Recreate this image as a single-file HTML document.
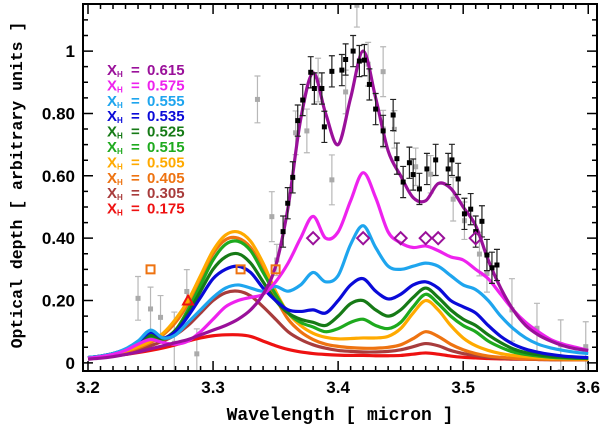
<!DOCTYPE html>
<html><head><meta charset="utf-8"><style>
html,body{margin:0;padding:0;background:#fff;}
svg{display:block;font-family:"Liberation Sans",sans-serif;}
</style></head><body>
<svg id="chart" width="600" height="429" viewBox="0 0 600 429" xmlns="http://www.w3.org/2000/svg">
<g id="marks"></g>
<g id="axes"></g>
<text x="340" y="420" text-anchor="middle" font-family="Liberation Mono, monospace" font-weight="bold" font-size="18">Wavelength [ micron ]</text>
<text transform="translate(22,185) rotate(-90)" text-anchor="middle" font-family="Liberation Mono, monospace" font-weight="bold" font-size="16.5">Optical depth [ arbitrary units ]</text>
<g id="legend"></g>
</svg>
<script>
const grid = [3.20,3.21,3.22,3.23,3.24,3.25,3.26,3.27,3.28,3.29,3.30,3.31,3.32,3.33,3.34,3.35,3.36,3.37,3.38,3.39,3.40,3.41,3.42,3.43,3.44,3.45,3.46,3.47,3.48,3.49,3.50,3.51,3.52,3.53,3.54,3.55,3.56,3.57,3.58,3.59,3.60];
const labels = ["0.615","0.575","0.555","0.535","0.525","0.515","0.505","0.405","0.305","0.175"];
const colors = ["#9a109a","#ee22ee","#1ea5ee","#0a0ad8","#167a16","#1eaa1e","#ffaa00","#ee7311","#a83c3c","#ee1111"];
const sPurple = [.012,.015,.02,.027,.035,.045,.055,.065,.075,.09,.105,.12,.14,.17,.22,.31,.5,.78,.93,.8,.7,.85,1.0,.85,.68,.6,.53,.52,.575,.56,.50,.44,.33,.24,.17,.12,.09,.07,.055,.045,.04];
const sMagenta = [.015,.02,.027,.04,.06,.075,.065,.06,.07,.1,.14,.18,.2,.21,.22,.26,.32,.40,.47,.4,.42,.52,.61,.53,.42,.385,.37,.375,.36,.34,.33,.30,.27,.22,.17,.13,.1,.075,.06,.05,.04];
const sLightBlue = [.017,.022,.03,.045,.07,.105,.08,.09,.13,.17,.21,.24,.25,.24,.23,.245,.23,.25,.29,.26,.28,.38,.44,.37,.31,.3,.31,.32,.31,.28,.25,.235,.2,.15,.11,.08,.06,.048,.04,.034,.03];
const sBlue = [.017,.022,.03,.044,.068,.098,.08,.1,.15,.21,.27,.3,.31,.29,.24,.2,.17,.165,.17,.16,.2,.25,.27,.23,.205,.22,.25,.26,.24,.2,.18,.16,.12,.085,.06,.044,.034,.027,.022,.019,.017];
const sDarkGreen = [.017,.022,.03,.043,.065,.088,.078,.105,.16,.23,.3,.34,.35,.32,.26,.2,.16,.14,.13,.12,.15,.19,.2,.17,.15,.17,.21,.24,.21,.17,.14,.12,.09,.065,.045,.033,.026,.021,.018,.016,.015];
const sGreen = [.017,.022,.03,.043,.062,.082,.076,.105,.17,.25,.33,.38,.39,.36,.29,.22,.16,.13,.115,.1,.11,.13,.14,.12,.11,.13,.18,.22,.19,.15,.12,.1,.07,.05,.035,.027,.022,.018,.016,.015,.014];
const sYellow = [.015,.02,.027,.038,.052,.07,.095,.14,.2,.28,.36,.41,.42,.39,.32,.23,.16,.12,.095,.082,.077,.078,.08,.08,.085,.11,.16,.2,.17,.12,.08,.055,.04,.03,.024,.02,.017,.015,.014,.013,.012];
const sOrange = [.015,.02,.026,.035,.048,.065,.09,.13,.19,.27,.35,.395,.40,.37,.3,.21,.14,.1,.075,.06,.053,.049,.047,.047,.05,.058,.078,.1,.085,.06,.042,.03,.022,.018,.015,.013,.012,.011,.01,.01,.01];
const sBrown = [.015,.02,.025,.032,.042,.055,.07,.09,.12,.16,.2,.225,.23,.215,.18,.14,.1,.075,.058,.047,.04,.037,.035,.035,.037,.042,.052,.062,.055,.04,.03,.023,.018,.015,.013,.012,.011,.01,.01,.01,.01];
const sRed = [.015,.018,.022,.027,.033,.04,.048,.058,.07,.08,.087,.09,.09,.085,.07,.055,.043,.035,.03,.027,.025,.024,.024,.023,.023,.024,.028,.032,.028,.022,.018,.016,.014,.013,.012,.012,.011,.011,.01,.01,.01];
const blackX = [3.356,3.3597,3.3637,3.3677,3.3717,3.3781,3.381,3.387,3.389,3.395,3.403,3.406,3.412,3.417,3.421,3.425,3.430,3.436,3.444,3.447,3.452,3.457,3.460,3.465,3.471,3.478,3.488,3.491,3.496,3.501,3.506,3.510,3.515,3.519,3.523,3.527];
const blackY = [.421,.512,.595,.777,.843,.932,.880,.880,.757,.935,.939,.973,1.0,.968,.971,.893,.814,.744,.795,.655,.580,.642,.604,.558,.622,.651,.622,.651,.590,.478,.493,.421,.454,.346,.305,.314];
const greyX = [3.240,3.250,3.258,3.269,3.279,3.287,3.3355,3.347,3.351,3.366,3.375,3.384,3.395,3.406,3.415,3.424,3.436,3.436,3.445,3.462,3.474,3.492,3.501,3.513,3.519,3.539,3.559,3.578,3.598];
const greyY = [.207,.173,.146,.063,.229,.029,.845,.469,.33,.738,.744,.907,.587,.869,1.147,.958,.934,.750,.749,.629,.605,.525,.456,.349,.287,.170,.111,.058,.052];
const greyErr = [.07,.07,.07,.1,.07,.08,.075,.08,.05,.07,.07,.07,.08,.07,.07,.07,.08,.06,.06,.06,.06,.07,.06,.07,.06,.1,.08,.08,.08];
const orangeSqX = [3.25,3.322,3.35];
const orangeSqY = [.30,.30,.30];
const triX = [3.28];
const triY = [.20];
const diamondX = [3.38,3.42,3.45,3.47,3.48,3.51];
const diamondY = [.40,.40,.40,.40,.40,.40];
const xTicks = [3.2,3.3,3.4,3.5,3.6];
const xTickLabels = ["3.2","3.3","3.4","3.5","3.6"];
const yTicks = [0,0.2,0.4,0.6,0.8,1.0];
const yTickLabels = ["0","0.20","0.40","0.60","0.80","1"];

const L=83,R=597,T=4,B=371, X0=3.196,X1=3.607,Y0=-0.026,Y1=1.151;
const sx=v=>L+(v-X0)/(X1-X0)*(R-L);
const sy=v=>B-(v-Y0)/(Y1-Y0)*(B-T);
const NS="http://www.w3.org/2000/svg";
const mk=(t,a,p)=>{const e=document.createElementNS(NS,t);for(const k in a)e.setAttribute(k,a[k]);p.appendChild(e);return e;};
const marks=document.getElementById('marks'), axes=document.getElementById('axes'), legend=document.getElementById('legend');

const defs=mk('defs',{},document.getElementById('chart'));
const cp=mk('clipPath',{id:'clip'},defs);mk('rect',{x:L,y:T,width:R-L,height:B-T},cp);
marks.setAttribute('clip-path','url(#clip)');

greyX.forEach((x,i)=>{
  const g=mk('g',{},marks);
  
  
  const cx=sx(x),y1=sy(greyY[i]-greyErr[i]),y2=sy(greyY[i]+greyErr[i]);
  mk('path',{d:`M${cx},${y1}V${y2}M${cx-3},${y1}H${cx+3}M${cx-3},${y2}H${cx+3}`,stroke:'#b8b8b8','stroke-width':1.2,fill:'none'},g);
  mk('rect',{x:cx-2.5,y:sy(greyY[i])-2.5,width:5,height:5,fill:'#aaa'},g);
});

const series=[sRed,sBrown,sOrange,sYellow,sGreen,sDarkGreen,sBlue,sLightBlue,sMagenta,sPurple];
const cols=[colors[9],colors[8],colors[7],colors[6],colors[5],colors[4],colors[3],colors[2],colors[1],colors[0]];
const names=['curve-0.175','curve-0.305','curve-0.405','curve-0.505','curve-0.515','curve-0.525','curve-0.535','curve-0.555','curve-0.575','curve-0.615'];
series.forEach((s,k)=>{
  const p=grid.map((g,i)=>[sx(g),sy(s[i])]);
  let d=`M${p[0][0]},${p[0][1]}`;
  for(let i=0;i<p.length-1;i++){
    const p0=p[Math.max(0,i-1)],p1=p[i],p2=p[i+1],p3=p[Math.min(p.length-1,i+2)];
    d+=`C${p1[0]+(p2[0]-p0[0])/6},${p1[1]+(p2[1]-p0[1])/6} ${p2[0]-(p3[0]-p1[0])/6},${p2[1]-(p3[1]-p1[1])/6} ${p2[0]},${p2[1]}`;
  }
  const e=mk('path',{d,stroke:cols[k],'stroke-width':3.2,fill:'none','stroke-linejoin':'round'},marks);
  
  
});

blackX.forEach((x,i)=>{
  const g=mk('g',{},marks);
  
  
  const cx=sx(x),y1=sy(blackY[i]-0.05),y2=sy(blackY[i]+0.05);
  mk('path',{d:`M${cx},${y1}V${y2}M${cx-3},${y1}H${cx+3}M${cx-3},${y2}H${cx+3}`,stroke:'#222','stroke-width':1.2,fill:'none'},g);
  mk('rect',{x:cx-2.5,y:sy(blackY[i])-2.5,width:5,height:5,fill:'#000'},g);
});
orangeSqX.forEach((x,i)=>{
  const e=mk('rect',{x:sx(x)-4,y:sy(orangeSqY[i])-4,width:8,height:8,fill:'none',stroke:'#ee7311','stroke-width':2},marks);
  
  
});
triX.forEach((x,i)=>{
  const cx=sx(x),cy=sy(triY[i]);
  const e=mk('path',{d:`M${cx},${cy-5}L${cx+5},${cy+4}L${cx-5},${cy+4}Z`,fill:'none',stroke:'#ee1111','stroke-width':2},marks);
  
  
});
diamondX.forEach((x,i)=>{
  const cx=sx(x),cy=sy(diamondY[i]);
  const e=mk('path',{d:`M${cx},${cy-6}L${cx+6},${cy}L${cx},${cy+6}L${cx-6},${cy}Z`,fill:'none',stroke:'#9a109a','stroke-width':2},marks);
  
  
});

const frame=mk('rect',{x:L,y:T,width:R-L,height:B-T,fill:'none',stroke:'#000','stroke-width':2},axes);


let td='';
for(let v=3.2;v<=3.6001;v+=0.01){const x=sx(v);const major=Math.abs(v*10-Math.round(v*10))<1e-6;const l=major?10:5;td+=`M${x},${B}v${-l}M${x},${T}v${l}`;}
for(let v=0;v<=1.1001;v+=0.05){const y=sy(v);const major=Math.abs(v*5-Math.round(v*5))<1e-6;const l=major?10:5;td+=`M${L},${y}h${l}M${R},${y}h${-l}`;}
const tk=mk('path',{d:td,stroke:'#000','stroke-width':1.5,fill:'none'},axes);


xTicks.forEach((v,i)=>{
  const t=mk('text',{x:sx(v),y:393,'text-anchor':'middle','font-size':17,'font-weight':'bold'},axes);
  t.textContent=xTickLabels[i];
  
  
});
yTicks.forEach((v,i)=>{
  const t=mk('text',{x:75,y:sy(v)+6,'text-anchor':'end','font-size':17,'font-weight':'bold'},axes);
  t.textContent=yTickLabels[i];
  
  
});
labels.forEach((lb,i)=>{
  const y=75+i*15.4;
  const g=mk('g',{'font-size':15,'font-weight':'bold',fill:colors[i]},legend);
  
  
  const a=mk('text',{x:107,y:y},g);a.textContent='X';
  const b=mk('text',{x:117,y:y+2,'font-size':8},g);b.textContent='H';
  const c=mk('text',{x:131,y:y},g);c.textContent='=';
  const d=mk('text',{x:147,y:y},g);d.textContent=lb;
});
</script>
</body></html>
